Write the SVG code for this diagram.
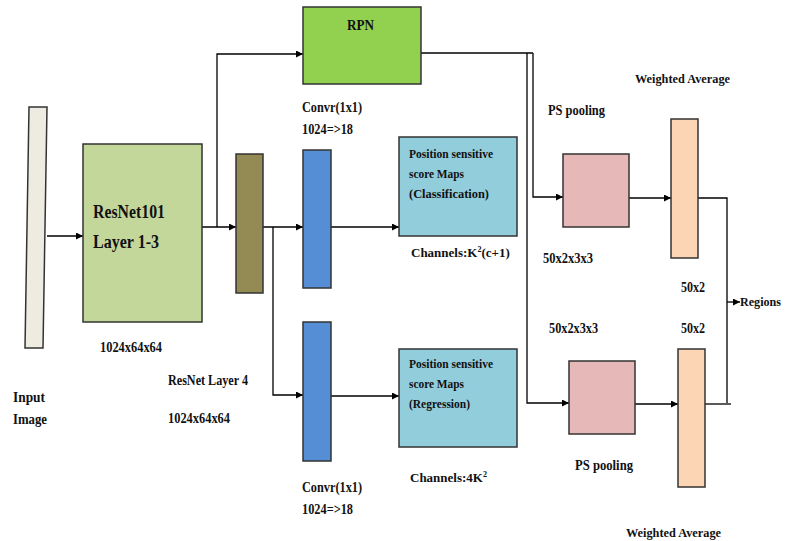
<svg xmlns="http://www.w3.org/2000/svg" width="785" height="541" viewBox="0 0 785 541">
<defs>
<marker id="ah" viewBox="0 0 10 10" refX="10" refY="5" markerWidth="7" markerHeight="7" markerUnits="userSpaceOnUse" orient="auto"><path d="M0,0 L10,5 L0,10 z" fill="#000"/></marker>
</defs>
<style>
text{font-family:'Liberation Serif','Times New Roman',Tinos,'DejaVu Serif',serif;font-weight:bold;fill:#111}
.box{stroke:#333;stroke-width:1.5}
.c{fill:none;stroke:#000;stroke-width:1.3}
.a{marker-end:url(#ah)}
</style>
<rect width="785" height="541" fill="#fff"/>
<g id="connectors">
<path class="c a" d="M47,236 H83"/>
<path class="c a" d="M202,227 H236"/>
<path class="c a" d="M217,227 V54 H303"/>
<path class="c a" d="M263,227 H303"/>
<path class="c a" d="M273,227 V395 H303"/>
<path class="c a" d="M331,227 H399"/>
<path class="c a" d="M331,396 H399"/>
<path class="c" d="M421,53 H533"/>
<path class="c a" d="M533,53 V197 H563"/>
<path class="c a" d="M527,53 V403 H569"/>
<path class="c a" d="M629,198 H671"/>
<path class="c a" d="M635,404 H678"/>
<path class="c" d="M698,198 H727 V403"/>
<path class="c" d="M705,404 H731"/>
<path class="c a" d="M727,302 H740"/>
</g>
<g id="input"><polygon class="box" points="29,107 47,107 43,348 25,348" fill="#eeece1" stroke="#777"/><text x="13" y="402" font-size="15" textLength="32" lengthAdjust="spacingAndGlyphs">Input</text><text x="13" y="424" font-size="15" textLength="34" lengthAdjust="spacingAndGlyphs">Image</text></g>
<g id="resnet13"><rect class="box" x="83" y="144" width="119" height="178" fill="#c4d79b"/><text x="93" y="218" font-size="18" textLength="72" lengthAdjust="spacingAndGlyphs">ResNet101</text><text x="93" y="248" font-size="18" textLength="66" lengthAdjust="spacingAndGlyphs">Layer 1-3</text><text x="100" y="352" font-size="15" textLength="62" lengthAdjust="spacingAndGlyphs">1024x64x64</text></g>
<g id="resnet4"><rect class="box" x="236" y="154" width="27" height="139" fill="#948a54"/><text x="168" y="385" font-size="14" textLength="80" lengthAdjust="spacingAndGlyphs">ResNet Layer 4</text><text x="168" y="423" font-size="15" textLength="62" lengthAdjust="spacingAndGlyphs">1024x64x64</text></g>
<g id="rpn"><rect class="box" x="303" y="7" width="118" height="77" fill="#92d050"/><text x="347" y="30" font-size="14" textLength="27" lengthAdjust="spacingAndGlyphs">RPN</text></g>
<g id="conv1"><rect class="box" x="303" y="150" width="28" height="138" fill="#558ed5"/><text x="302" y="112" font-size="14" textLength="60" lengthAdjust="spacingAndGlyphs">Convr(1x1)</text><text x="302" y="134" font-size="14" textLength="51" lengthAdjust="spacingAndGlyphs">1024=&gt;18</text></g>
<g id="conv2"><rect class="box" x="303" y="322" width="28" height="139" fill="#558ed5"/><text x="302" y="492" font-size="14" textLength="60" lengthAdjust="spacingAndGlyphs">Convr(1x1)</text><text x="302" y="514" font-size="14" textLength="51" lengthAdjust="spacingAndGlyphs">1024=&gt;18</text></g>
<g id="pscls"><rect class="box" x="399" y="137" width="118" height="99" fill="#92cddc"/><text x="409" y="158" font-size="12" textLength="84" lengthAdjust="spacingAndGlyphs">Position sensitive</text><text x="409" y="178" font-size="12" textLength="55" lengthAdjust="spacingAndGlyphs">score Maps</text><text x="409" y="198" font-size="12" textLength="80" lengthAdjust="spacingAndGlyphs">(Classification)</text><text x="411" y="257" font-size="13">Channels:K<tspan font-size="8" dy="-5">2</tspan><tspan dy="5">(c+1)</tspan></text></g>
<g id="psreg"><rect class="box" x="399" y="349" width="118" height="98" fill="#92cddc"/><text x="409" y="368" font-size="12" textLength="84" lengthAdjust="spacingAndGlyphs">Position sensitive</text><text x="409" y="388" font-size="12" textLength="55" lengthAdjust="spacingAndGlyphs">score Maps</text><text x="409" y="408" font-size="12" textLength="61" lengthAdjust="spacingAndGlyphs">(Regression)</text><text x="410" y="482" font-size="13">Channels:4K<tspan font-size="8" dy="-5">2</tspan></text></g>
<g id="pool1"><rect class="box" x="563" y="154" width="66" height="73" fill="#e6b9b8"/><text x="548" y="115" font-size="14" textLength="57" lengthAdjust="spacingAndGlyphs">PS pooling</text><text x="543" y="263" font-size="14" textLength="50" lengthAdjust="spacingAndGlyphs">50x2x3x3</text></g>
<g id="pool2"><rect class="box" x="569" y="361" width="66" height="73" fill="#e6b9b8"/><text x="575" y="470" font-size="14" textLength="58" lengthAdjust="spacingAndGlyphs">PS pooling</text><text x="549" y="333" font-size="14" textLength="49" lengthAdjust="spacingAndGlyphs">50x2x3x3</text></g>
<g id="wa1"><rect class="box" x="671" y="119" width="27" height="139" fill="#fcd5b4"/><text x="635" y="83" font-size="13" textLength="95" lengthAdjust="spacingAndGlyphs">Weighted Average</text><text x="681" y="292" font-size="14" textLength="24" lengthAdjust="spacingAndGlyphs">50x2</text></g>
<g id="wa2"><rect class="box" x="678" y="349" width="27" height="138" fill="#fcd5b4"/><text x="626" y="537" font-size="13" textLength="95" lengthAdjust="spacingAndGlyphs">Weighted Average</text><text x="681" y="333" font-size="14" textLength="24" lengthAdjust="spacingAndGlyphs">50x2</text></g>
<g id="regions"><text x="740" y="306" font-size="13" textLength="41" lengthAdjust="spacingAndGlyphs">Regions</text></g>
</svg>
